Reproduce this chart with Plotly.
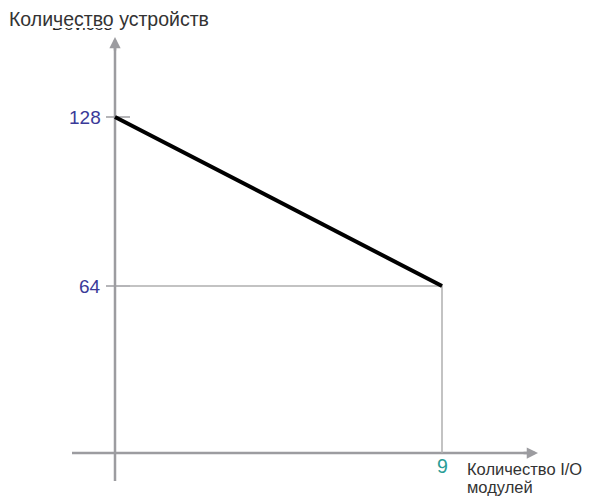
import plotly.graph_objects as go

# Data
x_vals = [0, 9]
y_vals = [128, 64]
y_ticks = [128, 64]
y_tick_labels = ["128", "64"]
x_ticks = [9]
x_tick_labels = ["9"]
y_title = "Количество устройств"
hidden_title = "Devices"
x_title_lines = ["Количество I/O", "модулей"]

OFF = 8  # page body margin
W, H = 591 - OFF, 497 - OFF
# pixel mapping of data space (figure pixels)
X0PX, X9PX = 115 - OFF, 442 - OFF
Y128PX, Y64PX = 117 - OFF, 286 - OFF
px_per_x = (X9PX - X0PX) / 9.0
px_per_y = (Y64PX - Y128PX) / 64.0
x0 = -X0PX / px_per_x
x1 = x0 + W / px_per_x
y_top = 128 + Y128PX / px_per_y
y_bot = y_top - H / px_per_y


def dx(px):
    """page pixel x -> data x"""
    return x0 + (px - OFF) / px_per_x


def dy(py):
    """page pixel y -> data y"""
    return y_top - (py - OFF) / px_per_y


def ppx(px):
    return (px - OFF) / W


def ppy(py):
    return 1 - (py - OFF) / H


AX = "#9c9ca0"
GUIDE = "#b0b0b0"
FONT = "Liberation Sans, Arial"

fig = go.Figure()

# hidden, partly covered text (drawn in plot layer, then covered)
fig.add_trace(go.Scatter(x=[dx(82)], y=[dy(26)], mode="text", text=[hidden_title],
                         textfont=dict(family=FONT, size=17, color="#222"), hoverinfo="skip"))

AXY = dy(453)
# guide lines
fig.add_trace(go.Scatter(x=[dx(130), x_vals[1], x_vals[1]], y=[y_vals[1], y_vals[1], AXY],
                         mode="lines", line=dict(color=GUIDE, width=1.5), hoverinfo="skip"))
# main line
fig.add_trace(go.Scatter(x=x_vals, y=y_vals, mode="lines",
                         line=dict(color="black", width=4), hoverinfo="skip"))

shapes = []
# y-axis line
shapes.append(dict(type="line", xref="x", yref="y", x0=0, x1=0, y0=dy(481), y1=dy(44),
                   line=dict(color=AX, width=2.5), layer="below"))
# x-axis line
shapes.append(dict(type="line", xref="x", yref="y", x0=dx(72), x1=dx(530), y0=AXY, y1=AXY,
                   line=dict(color=AX, width=2.5), layer="below"))
# tick marks on y
for t in y_ticks:
    shapes.append(dict(type="line", xref="x", yref="y", x0=dx(106), x1=dx(130), y0=t, y1=t,
                       line=dict(color=AX, width=1.5), layer="below"))
# white cover hiding the top of the hidden text
shapes.append(dict(type="rect", xref="paper", yref="paper", x0=0, x1=ppx(230),
                   y0=ppy(28), y1=1.0, fillcolor="white", line=dict(width=0),
                   layer="above"))

annotations = []
# arrowheads
annotations.append(dict(x=0, y=dy(37), ax=0, ay=dy(52), xref="x", yref="y", axref="x", ayref="y",
                        showarrow=True, arrowhead=2, arrowsize=0.9, arrowwidth=2.5,
                        arrowcolor=AX, text=""))
annotations.append(dict(x=dx(538), y=AXY, ax=dx(522), ay=AXY, xref="x", yref="y", axref="x", ayref="y",
                        showarrow=True, arrowhead=2, arrowsize=0.9, arrowwidth=2.5,
                        arrowcolor=AX, text=""))
# y tick labels
for t, lab in zip(y_ticks, y_tick_labels):
    annotations.append(dict(x=dx(103), y=t, xref="x", yref="y", text=lab, showarrow=False,
                            xanchor="right", yanchor="middle",
                            font=dict(family=FONT, size=19, color="#3a3a98")))
# x tick labels
for t, lab in zip(x_ticks, x_tick_labels):
    annotations.append(dict(x=t, y=dy(466), xref="x", yref="y", text=lab, showarrow=False,
                            xanchor="center", yanchor="middle",
                            font=dict(family=FONT, size=19.5, color="#2a9d96")))
# y title
annotations.append(dict(x=ppx(7), y=ppy(19), xref="paper", yref="paper", text=y_title,
                        showarrow=False, xanchor="left", yanchor="middle",
                        font=dict(family=FONT, size=19.5, color="#333")))
# x title (two lines)
for i, line in enumerate(x_title_lines):
    annotations.append(dict(x=ppx(465), y=ppy(469 + 18 * i), xref="paper", yref="paper", text=line,
                            showarrow=False, xanchor="left", yanchor="middle",
                            font=dict(family=FONT, size=16.5, color="#333")))

fig.update_layout(
    width=W, height=H,
    margin=dict(l=0, r=0, t=0, b=0),
    paper_bgcolor="white", plot_bgcolor="white",
    showlegend=False,
    xaxis=dict(range=[x0, x1], visible=False, fixedrange=True),
    yaxis=dict(range=[y_bot, y_top], visible=False, fixedrange=True),
    shapes=shapes, annotations=annotations,
)

fig.write_html("out.html", config={"displayModeBar": False})
